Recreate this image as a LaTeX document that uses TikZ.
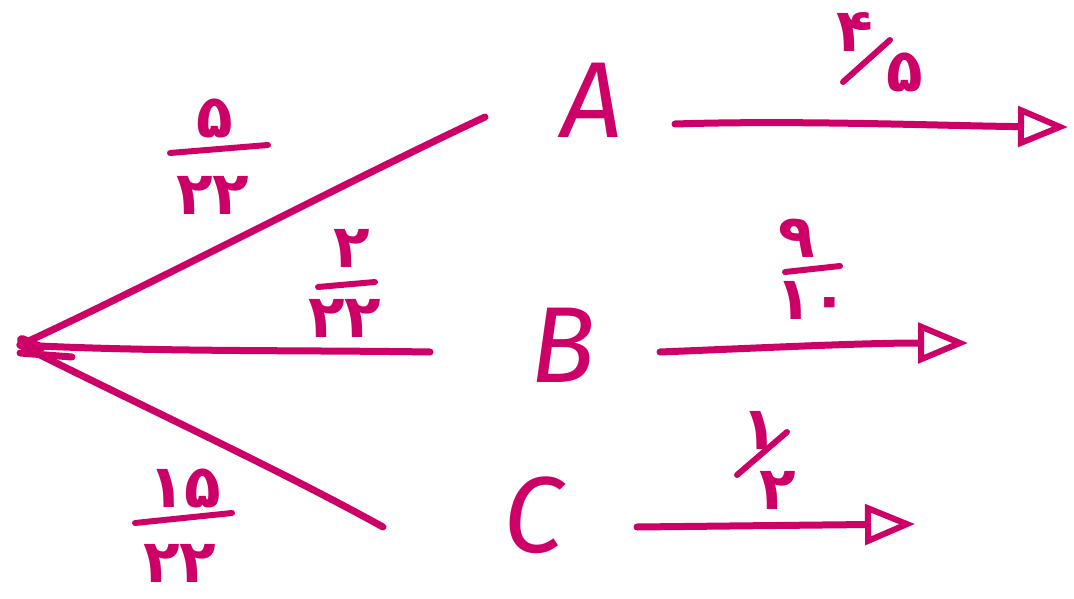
\documentclass[tikz,border=0pt]{standalone}
\usepackage{fontspec}
\usetikzlibrary{arrows.meta}
\newfontfamily\fadigits[Script=Arabic]{DejaVu Sans}
\newfontfamily\letterfont{Fira Sans}
\definecolor{ink}{RGB}{204,0,102}
\tikzset{
  stroke/.style={draw=ink, line width=7pt, line cap=round, line join=round},
  arr/.style={stroke, -{Triangle[open, length=50pt, width=40pt, line width=6pt]}},
  bar/.style={draw=ink, line width=6pt, line cap=round},
  digit/.style={text=ink, font=\fadigits\bfseries\fontsize{60}{60}\selectfont, inner sep=0pt},
  letter/.style={text=ink, font=\letterfont\itshape\fontsize{108}{108}\selectfont, inner sep=0pt},
}
\begin{document}
\begin{tikzpicture}[x=1pt,y=-1pt]
\useasboundingbox (0,0) rectangle (1074,599);
% root and branch ends
\coordinate (root) at (20,345);
\coordinate (ea) at (485,117);
\coordinate (eb) at (430,352);
\coordinate (ec) at (383,527);
% letters
\node[letter] (A) at (592,100) {A};
\node[letter] (B) at (563,345) {B};
\node[letter] (C) at (533,515) {C};
% branches
\draw[stroke] (root) .. controls (140,290) and (330,190) .. (ea);
\draw[stroke] (root) .. controls (150,352) and (300,350) .. (eb);
\draw[stroke] (root) .. controls (150,410) and (280,470) .. (ec);
\draw[stroke, line width=10pt] (22,340) -- (40,348);
\draw[stroke] (20,353) -- (72,357);
% arrows
\coordinate (sa) at (675,124);
\coordinate (ta) at (1068,127);
\coordinate (sb) at (660,352);
\coordinate (tb) at (968,343);
\coordinate (sc) at (637,527);
\coordinate (tc) at (915,524);
\draw[arr] (sa) .. controls (800,120) and (950,126) .. (ta);
\draw[arr] (sb) .. controls (760,348) and (860,343) .. (tb);
\draw[arr] (sc) -- (tc);
% fraction 5/22
\node[digit] (n1) at (215,118) {۵};
\draw[bar] (170,153) -- (268,145);
\node[digit] (d1) at (213,195) {۲۲};
% fraction 2/22
\node[digit] (n2) at (352,248) {۲};
\draw[bar] (318,287) -- (375,282);
\node[digit] (d2) at (345,318) {۲۲};
% fraction 15/22
\node[digit] (n3) at (185,488) {۱۵};
\draw[bar] (135,523) -- (232,513);
\node[digit] (d3) at (180,563) {۲۲};
% fraction 4/5
\node[digit] (n4) at (855,32) {۴};
\draw[bar] (843,82) -- (890,40);
\node[digit] (d4) at (905,72) {۵};
% fraction 9/10
\node[digit] (n5) at (797,238) {۹};
\draw[bar] (785,272) -- (840,266);
\node[digit] (d5) at (812,300) {۱۰};
% fraction 1/2
\node[digit] (n6) at (760,430) {۱};
\draw[bar] (737,475) -- (787,432);
\node[digit] (d6) at (778,490) {۲};
\end{tikzpicture}
\end{document}
